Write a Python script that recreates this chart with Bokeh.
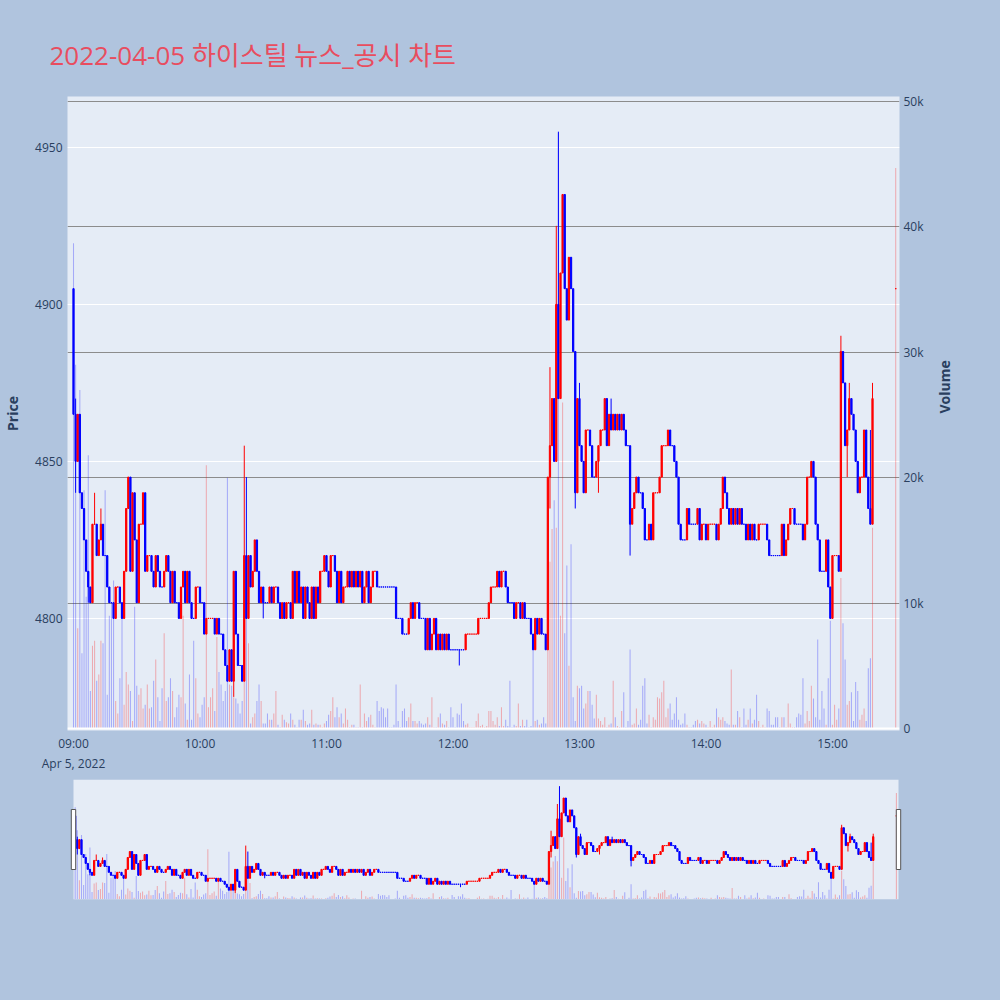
import math
import numpy as np
from bokeh.plotting import figure
from bokeh.models import (ColumnDataSource, Range1d, LinearAxis, Grid, FixedTicker,
                          DatetimeTickFormatter, NumeralTickFormatter, Span, BoxAnnotation)
from bokeh.layouts import column
from bokeh.embed import file_html
from bokeh.resources import INLINE

# ---------------- data ----------------
title_text = "2022-04-05 하이스틸 뉴스_공시 차트"
session_open = np.datetime64("2022-04-05T09:00")
first_open = 4905

close_prices = [
    4865, 4850, 4865, 4840, 4835, 4825, 4815, 4810, 4805, 4830,
    4830, 4820, 4825, 4830, 4820, 4820, 4810, 4805, 4805, 4800,
    4810, 4810, 4805, 4800, 4815, 4835, 4845, 4815, 4840, 4825,
    4805, 4830, 4830, 4840, 4815, 4820, 4820, 4815, 4810, 4820,
    4815, 4810, 4810, 4815, 4820, 4815, 4805, 4815, 4805, 4805,
    4800, 4810, 4815, 4805, 4815, 4805, 4800, 4800, 4810, 4810,
    4805, 4805, 4795, 4800, 4800, 4800, 4800, 4795, 4800, 4795,
    4795, 4790, 4785, 4780, 4790, 4780, 4815, 4795, 4785, 4785,
    4780, 4820, 4800, 4820, 4810, 4815, 4825, 4815, 4805, 4810,
    4805, 4805, 4805, 4810, 4805, 4810, 4810, 4805, 4800, 4805,
    4800, 4805, 4805, 4800, 4815, 4805, 4815, 4805, 4810, 4800,
    4810, 4805, 4800, 4810, 4800, 4810, 4805, 4815, 4815, 4820,
    4815, 4810, 4820, 4820, 4815, 4805, 4815, 4805, 4810, 4810,
    4815, 4810, 4815, 4810, 4815, 4810, 4815, 4805, 4810, 4815,
    4805, 4810, 4815, 4815, 4810, 4810, 4810, 4810, 4810, 4810,
    4810, 4810, 4810, 4800, 4800, 4800, 4795, 4795, 4795, 4800,
    4805, 4800, 4805, 4805, 4800, 4800, 4800, 4790, 4800, 4790,
    4795, 4800, 4790, 4795, 4790, 4795, 4790, 4795, 4790, 4790,
    4790, 4790, 4790, 4790, 4790, 4790, 4795, 4795, 4795, 4795,
    4795, 4795, 4800, 4800, 4800, 4800, 4800, 4805, 4810, 4810,
    4810, 4815, 4810, 4815, 4815, 4810, 4805, 4805, 4805, 4800,
    4805, 4805, 4800, 4805, 4800, 4800, 4800, 4795, 4790, 4800,
    4795, 4800, 4795, 4795, 4790, 4845, 4855, 4870, 4850, 4900,
    4870, 4910, 4935, 4905, 4895, 4915, 4905, 4885, 4840, 4870,
    4855, 4850, 4840, 4860, 4860, 4855, 4845, 4845, 4850, 4855,
    4860, 4860, 4870, 4855, 4865, 4860, 4865, 4860, 4865, 4860,
    4865, 4860, 4855, 4855, 4830, 4835, 4840, 4845, 4840, 4840,
    4835, 4825, 4825, 4830, 4825, 4840, 4840, 4840, 4845, 4855,
    4855, 4855, 4860, 4855, 4855, 4850, 4845, 4830, 4825, 4825,
    4825, 4835, 4830, 4830, 4830, 4830, 4835, 4825, 4830, 4830,
    4825, 4830, 4830, 4830, 4830, 4825, 4830, 4835, 4845, 4840,
    4835, 4830, 4835, 4830, 4835, 4830, 4835, 4830, 4830, 4825,
    4830, 4825, 4830, 4825, 4825, 4830, 4830, 4830, 4830, 4825,
    4820, 4820, 4820, 4820, 4820, 4820, 4830, 4820, 4825, 4830,
    4835, 4835, 4830, 4830, 4830, 4830, 4825, 4830, 4845, 4845,
    4850, 4845, 4830, 4825, 4815, 4815, 4815, 4825, 4810, 4800,
    4820, 4820, 4820, 4815, 4885, 4875, 4855, 4860, 4870, 4865,
    4860, 4850, 4840, 4845, 4845, 4860, 4845, 4835, 4830, 4870,
]

volumes = [
    38700, 29000, 8000, 27000, 6000, 19000, 10500, 21800, 3000, 6600,
    7000, 3800, 4300, 7000, 6800, 19000, 2700, 9000, 10000, 11800,
    2200, 1200, 4000, 9000, 1900, 4500, 3500, 3000, 600, 9700,
    3400, 2700, 3200, 1600, 1900, 3500, 1600, 1700, 3800, 5500,
    2500, 600, 3200, 7600, 2200, 2500, 4000, 3000, 900, 1700,
    2700, 2500, 9000, 2000, 700, 4300, 700, 7000, 4000, 1200,
    900, 1900, 2500, 21000,
    1700, 2500, 3200, 1400, 7300, 4500, 3500, 2200, 3000, 20000,
    3500, 3400, 2500, 2400, 2000, 1200, 2200, 5000, 10000, 6800,
    400, 900, 1200, 2200, 3500, 2200, 400, 400, 1200, 700,
    700, 1200, 3000, 300, 100, 1100, 700, 500, 400, 1200,
    700, 300, 100, 700, 700, 1500, 600, 300, 400, 1500,
    300, 400, 300, 300, 100, 400, 600, 1100, 1400, 2500,
    900, 1700, 900, 1200,
    400, 1600, 700, 100, 300, 300, 100, 100, 3500, 100,
    1200, 600, 900, 1100, 300, 100, 2200, 1400, 1700, 1600,
    900, 1600, 100, 100, 300, 3500, 600, 100, 1400, 1600,
    600, 900, 2000, 600, 600, 400, 600, 400, 300, 400,
    900, 300, 2500, 100, 100, 900, 1200, 400, 300, 600,
    100, 1700, 900, 100, 1200, 1100, 2000, 600, 300, 400,
    100, 100, 100, 600, 1200,
    200, 300, 100, 200, 1400, 1400, 600, 300, 900, 200,
    1700, 200, 700, 200, 3800, 100, 300, 200, 2000, 200,
    700, 200, 700, 100, 200, 6600, 600, 700, 300, 400,
    900, 400, 6300, 13300, 15900, 18200, 16000, 47500, 9000, 26000,
    7600, 13000, 5000, 14700, 2500, 600, 3400, 3200, 3400, 1600,
    2000, 3000, 3000, 1900, 800, 2700, 800, 600, 300, 900,
    100, 300, 400, 3800, 900,
    200, 100,
    1400, 2900, 100, 600, 6300, 300, 400, 1600, 300, 700,
    3400, 4000, 400, 1100, 100, 900, 700, 2500, 2400, 2900,
    3800, 900, 1600, 2000, 700, 1200, 2500, 700, 300, 400,
    1200, 300, 100, 100, 300, 600, 700, 400, 600, 400,
    300, 100, 600, 100, 300, 1600, 900, 700, 900, 600,
    400, 300, 4700, 300, 300, 1400, 900, 100, 1600, 300,
    700, 1600, 400,
    700, 2700, 600, 100, 300, 100, 1600, 1400, 300,
    300, 900, 900, 100, 900, 900, 100, 2000, 400, 100,
    100, 900, 1200, 1100, 4000, 400, 1400, 600, 3400, 2400,
    900, 7100, 700, 3000, 1600, 300, 4000, 8600, 300, 1900,
    700, 1600, 12000, 8400, 5500, 1900, 2200, 2900, 600, 3700,
    3000, 700, 1100, 1600, 600, 4800, 5600, 16000,
]

wick_high = {0: 4905, 1: 4870, 10: 4840, 13: 4835, 76: 4815, 81: 4855, 82: 4845,
             226: 4880, 229: 4925, 230: 4955, 232: 4935, 240: 4875, 255: 4870,
             364: 4890, 368: 4875, 378: 4860, 379: 4875}
wick_low = {1: 4840, 7: 4805, 76: 4775, 90: 4800, 183: 4785, 226: 4835, 238: 4835,
            249: 4840, 264: 4820, 359: 4800, 367: 4845}

auction_minute = 390
auction_price = 4905
auction_volume = 44700

price_ticks = [4800, 4850, 4900, 4950]
volume_ticks = [0, 10000, 20000, 30000, 40000, 50000]
hour_ticks = ["09:00", "10:00", "11:00", "12:00", "13:00", "14:00", "15:00"]

assert len(close_prices) == 380, len(close_prices)
assert len(volumes) == 380, len(volumes)

# ---------------- derived ----------------
MIN = 60000.0
base_ms = float((session_open - np.datetime64("1970-01-01T00:00")) / np.timedelta64(1, "ms"))

minutes = list(range(len(close_prices))) + [auction_minute]
closes = close_prices + [auction_price]
opens = [first_open] + close_prices[:-1] + [auction_price]
vols = volumes + [auction_volume]

UP, DOWN = "#ff0000", "#0000ff"
colors, highs, lows = [], [], []
up = False
prev_c = None
for i, (o, c) in enumerate(zip(opens, closes)):
    if c > o:
        up = True
    elif c < o:
        up = False
    elif prev_c is not None and c != prev_c:
        up = c > prev_c
    prev_c = c
    colors.append(UP if up else DOWN)
    m = minutes[i]
    highs.append(max(o, c, wick_high.get(m, o)))
    lows.append(min(o, c, wick_low.get(m, o)))

src = ColumnDataSource(dict(
    x=[base_ms + m * MIN for m in minutes],
    top=[max(o, c) for o, c in zip(opens, closes)],
    bottom=[min(o, c) for o, c in zip(opens, closes)],
    high=highs, low=lows, color=colors, vol=vols,
))

PRICE_RANGE = (4764.3, 4966.2)
VOL_RANGE = (-160, 50400)
FONT = "Open Sans, Noto Sans CJK KR, sans-serif"
TXT = "#2a3f5f"
PAPER = "#b0c4de"
PLOTBG = "#e5ecf6"

# ---------------- main figure ----------------
p = figure(frame_width=832, frame_height=634, x_axis_type="datetime",
           x_range=Range1d(base_ms - 2.85 * MIN, base_ms + 391.8 * MIN),
           y_range=Range1d(*PRICE_RANGE),
           output_backend="svg", toolbar_location=None,
           min_border_left=60, min_border_right=80, min_border_top=96, min_border_bottom=40,
           background_fill_color=PLOTBG, border_fill_color=PAPER, outline_line_color=None)
p.extra_y_ranges = {"vol": Range1d(*VOL_RANGE)}

p.title.text = title_text
p.title.text_font = FONT
p.title.text_font_size = "26px"
p.title.text_font_style = "normal"
p.title.text_color = "#e84d5f"
p.title.offset = -18
p.title.standoff = 48

p.xgrid.visible = False
p.ygrid.ticker = FixedTicker(ticks=price_ticks)
p.ygrid.grid_line_color = "white"
p.ygrid.grid_line_width = 1

vgrid = Grid(dimension=1, ticker=FixedTicker(ticks=volume_ticks[1:]), y_range_name="vol",
             grid_line_color="#8c8c8c", grid_line_width=1)
p.add_layout(vgrid)
p.add_layout(Span(location=0, dimension="width", y_range_name="vol",
                  line_color="white", line_width=2))

for ax in [p.xaxis[0], p.yaxis[0]]:
    ax.axis_line_color = None
    ax.major_tick_line_color = None
    ax.minor_tick_line_color = None
    ax.major_label_text_color = TXT
    ax.major_label_text_font = FONT
    ax.major_label_text_font_size = "12px"

p.xaxis.ticker = FixedTicker(ticks=[base_ms + (int(h[:2]) - 9) * 60 * MIN for h in hour_ticks])
p.xaxis.formatter = DatetimeTickFormatter(
    hours="%H:%M", hourmin="%H:%M", minutes="%H:%M", minsec="%H:%M",
    seconds="%H:%M", days="%H:%M", context="%b %-d, %Y", context_which="start")
p.xaxis.major_label_standoff = -2

p.yaxis.ticker = FixedTicker(ticks=price_ticks)
p.yaxis.major_label_standoff = -1
p.yaxis.axis_label = "Price"
p.yaxis.axis_label_standoff = 10
p.yaxis.axis_label_text_font = FONT
p.yaxis.axis_label_text_font_size = "14px"
p.yaxis.axis_label_text_font_style = "bold"
p.yaxis.axis_label_text_color = TXT

vax = LinearAxis(y_range_name="vol", ticker=FixedTicker(ticks=volume_ticks),
                 formatter=NumeralTickFormatter(format="0a"), axis_label="Volume")
vax.axis_line_color = None
vax.major_tick_line_color = None
vax.minor_tick_line_color = None
vax.major_label_text_color = TXT
vax.major_label_text_font = FONT
vax.major_label_text_font_size = "12px"
vax.major_label_standoff = -2
vax.axis_label_standoff = 18
vax.axis_label_text_font = FONT
vax.axis_label_text_font_size = "14px"
vax.axis_label_text_font_style = "bold"
vax.axis_label_text_color = TXT
vax.axis_label_orientation = math.pi / 2
p.add_layout(vax, "right")


def draw(fig):
    fig.vbar(x="x", width=0.5 * MIN, top="vol", bottom=0, source=src, y_range_name="vol",
             fill_color="color", fill_alpha=0.28, line_color=None)
    fig.segment(x0="x", y0="low", x1="x", y1="high", source=src, line_color="color", line_width=1)
    fig.vbar(x="x", width=0.6 * MIN, top="top", bottom="bottom", source=src,
             fill_color="color", line_color="color", line_width=1)


draw(p)

# ---------------- range slider figure ----------------
px_per_min = 825 / 391.8
s_lo, s_hi = -0.8, 391.0
mx0 = s_lo - 6 / px_per_min
mx1 = s_hi + 6 / px_per_min
mini = figure(frame_width=837, frame_height=120, x_axis_type="datetime",
              x_range=Range1d(base_ms + mx0 * MIN, base_ms + mx1 * MIN),
              y_range=Range1d(*PRICE_RANGE), x_axis_location=None, y_axis_location=None,
              output_backend="svg", toolbar_location=None,
              min_border_left=58, min_border_right=77, min_border_top=5, min_border_bottom=61,
              background_fill_color=PAPER, border_fill_color=PAPER, outline_line_color=None)
mini.extra_y_ranges = {"vol": Range1d(*VOL_RANGE)}
mini.grid.visible = False
mini.add_layout(BoxAnnotation(left=base_ms + s_lo * MIN, right=base_ms + s_hi * MIN,
                              fill_color=PLOTBG, fill_alpha=1, line_color=None, level="underlay"))
draw(mini)

span_p = PRICE_RANGE[1] - PRICE_RANGE[0]
h_top = PRICE_RANGE[1] - span_p * 0.25
h_bot = PRICE_RANGE[1] - span_p * 0.75
hw = 2.2 / px_per_min
mini.quad(left=[base_ms + (s_lo - hw) * MIN, base_ms + (s_hi - hw) * MIN],
          right=[base_ms + (s_lo + hw) * MIN, base_ms + (s_hi + hw) * MIN],
          top=[h_top, h_top], bottom=[h_bot, h_bot],
          fill_color="white", line_color="#555555", line_width=1)

layout = column(p, mini)

html = file_html(layout, INLINE, title=title_text)
html = html.replace("</head>", "<style>html, body { background-color: #b0c4de; }</style>\n</head>", 1)
open("out.html", "w").write(html)
